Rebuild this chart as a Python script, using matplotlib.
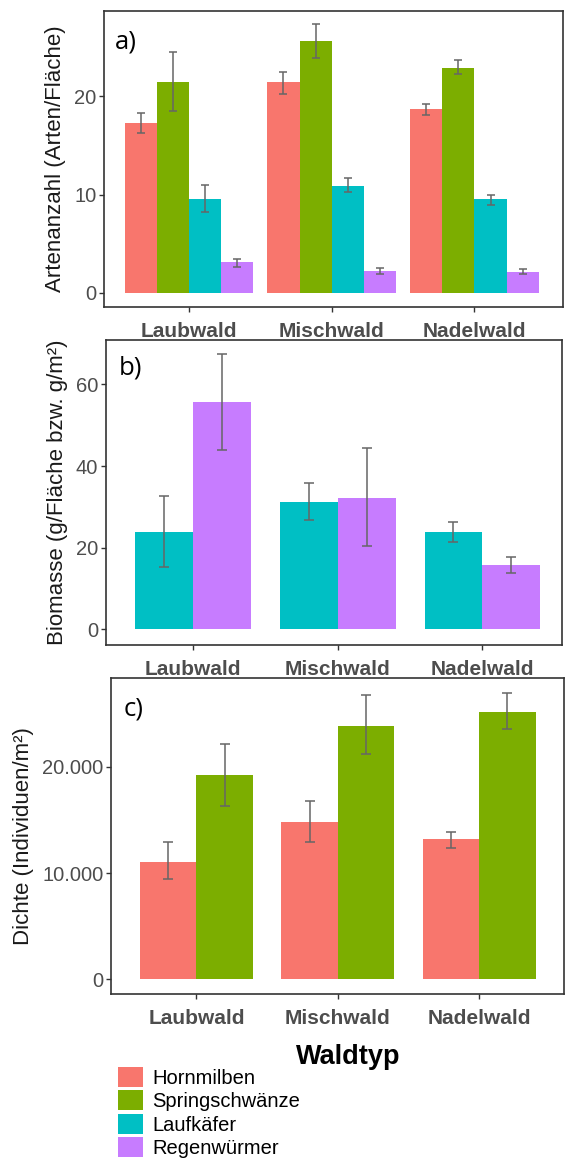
import matplotlib
matplotlib.use("Agg")
import matplotlib.pyplot as plt
from matplotlib.patches import Patch
from matplotlib.ticker import FuncFormatter
import numpy as np

plt.rcParams['font.family'] = ['Liberation Sans', 'DejaVu Sans']

# ---------------- data ----------------
waldtyp = ["Laubwald", "Mischwald", "Nadelwald"]
gruppen = ["Hornmilben", "Springschwänze", "Laufkäfer", "Regenwürmer"]
farben = ["#F8766D", "#7CAE00", "#00BFC4", "#C77CFF"]

# a) Artenanzahl (Arten/Fläche)
arten_mean = {
    "Hornmilben":     [17.3, 21.5, 18.7],
    "Springschwänze": [21.5, 25.6, 22.9],
    "Laufkäfer":      [9.6, 10.9, 9.6],
    "Regenwürmer":    [3.1, 2.2, 2.1],
}
arten_lo = {
    "Hornmilben":     [16.3, 20.3, 18.1],
    "Springschwänze": [18.5, 23.9, 22.3],
    "Laufkäfer":      [8.2, 10.3, 9.0],
    "Regenwürmer":    [2.65, 1.9, 1.9],
}
arten_hi = {
    "Hornmilben":     [18.35, 22.5, 19.2],
    "Springschwänze": [24.5, 27.4, 23.7],
    "Laufkäfer":      [11.0, 11.7, 10.0],
    "Regenwürmer":    [3.5, 2.5, 2.4],
}

# b) Biomasse (g/Fläche bzw. g/m²)
bio_gruppen = ["Laufkäfer", "Regenwürmer"]
bio_mean = {"Laufkäfer": [23.8, 31.3, 23.8], "Regenwürmer": [55.7, 32.2, 15.8]}
bio_lo = {"Laufkäfer": [15.2, 26.8, 21.5], "Regenwürmer": [43.9, 20.3, 13.8]}
bio_hi = {"Laufkäfer": [32.6, 35.9, 26.3], "Regenwürmer": [67.4, 44.4, 17.6]}

# c) Dichte (Individuen/m²)
dichte_gruppen = ["Hornmilben", "Springschwänze"]
dichte_mean = {"Hornmilben": [11000, 14800, 13200], "Springschwänze": [19200, 23900, 25200]}
dichte_lo = {"Hornmilben": [9400, 12900, 12400], "Springschwänze": [16300, 21200, 23600]}
dichte_hi = {"Hornmilben": [12900, 16800, 13900], "Springschwänze": [22200, 26800, 27000]}

yticks_a = [0, 10, 20]
yticks_b = [0, 20, 40, 60]
yticks_c = [0, 10000, 20000]

# ---------------- figure ----------------
W, H = 566, 1171
fig = plt.figure(figsize=(W / 100, H / 100), dpi=100)
farbe = dict(zip(gruppen, farben))

def ax_px(l, t, r, b):
    return fig.add_axes([l / W, 1 - b / H, (r - l) / W, (b - t) / H])

def style(ax, yticks, ylim, xlim, fmt=None):
    ax.set_xlim(*xlim)
    ax.set_ylim(*ylim)
    for s in ax.spines.values():
        s.set_color("#333333")
        s.set_linewidth(1.2)
    ax.set_yticks(yticks)
    ax.set_xticks(np.arange(1, len(waldtyp) + 1))
    ax.set_xticklabels(waldtyp, fontsize=15, fontweight="bold", color="#4D4D4D")
    if fmt is not None:
        ax.yaxis.set_major_formatter(FuncFormatter(fmt))
    ax.tick_params(axis="y", labelsize=14.5, labelcolor="#4D4D4D", color="#333333",
                   length=3.5, width=1, pad=2)
    ax.tick_params(axis="x", color="#333333", length=3.5, width=1, pad=7)

def dodge_bars(ax, groups, mean, lo, hi, total_width, capsize):
    n = len(groups)
    w = total_width / n
    x = np.arange(1, len(waldtyp) + 1)
    for i, g in enumerate(groups):
        off = -total_width / 2 + w * (i + 0.5)
        m = np.array(mean[g]); l = np.array(lo[g]); h = np.array(hi[g])
        ax.bar(x + off, m, width=w, color=farbe[g], linewidth=0, zorder=2)
        ax.errorbar(x + off, m, yerr=[m - l, h - m], fmt="none", ecolor="#666666",
                    elinewidth=1.1, capsize=capsize, capthick=1.1, zorder=3)

# panel a
ax1 = ax_px(104, 11, 563, 307)
dodge_bars(ax1, gruppen, arten_mean, arten_lo, arten_hi, 0.9, 2.6)
style(ax1, yticks_a, (-1.43, 28.7), (0.406, 3.62))
ax1.set_ylabel("Artenanzahl (Arten/Fläche)", fontsize=16, color="#1a1a1a", labelpad=6)
ax1.text(115, 41, "a)", transform=None, fontsize=1, alpha=0)
fig.text(115 / W, 1 - 42 / H, "a)", fontsize=18.5, family="Open Sans", va="center",
         ha="left", color="black")

# panel b
ax2 = ax_px(106, 340, 562, 645)
dodge_bars(ax2, bio_gruppen, bio_mean, bio_lo, bio_hi, 0.8, 3.3)
style(ax2, yticks_b, (-3.85, 70.9), (0.398, 3.55))
ax2.set_ylabel("Biomasse (g/Fläche bzw. g/m²)", fontsize=16, color="#1a1a1a", labelpad=6)
fig.text(119 / W, 1 - 368 / H, "b)", fontsize=18.5, family="Open Sans", va="center",
         ha="left", color="black")

# panel c
ax3 = ax_px(111, 678, 564, 994)
dodge_bars(ax3, dichte_gruppen, dichte_mean, dichte_lo, dichte_hi, 0.8, 3.3)
style(ax3, yticks_c, (-1400, 28380), (0.396, 3.6),
      fmt=lambda v, p: f"{int(v):,}".replace(",", "."))
ax3.set_ylabel("Dichte (Individuen/m²)", fontsize=16, color="#1a1a1a", labelpad=6)
fig.text(124 / W, 1 - 709 / H, "c)", fontsize=18.5, family="Open Sans", va="center",
         ha="left", color="black")

fig.text(348 / W, 1 - 1057 / H, "Waldtyp", fontsize=19.5, fontweight="bold",
         ha="center", va="center", color="black")

# legend
handles = [Patch(facecolor=farbe[g], edgecolor="none", label=g) for g in gruppen]
leg = fig.legend(handles=handles, loc="upper left", bbox_to_anchor=(114 / W, 1 - 1063 / H),
                 frameon=False, fontsize=14.5, handlelength=1.25, handleheight=1.15,
                 labelspacing=0.13, handletextpad=0.45, borderaxespad=0, borderpad=0.2)

fig.savefig("out.png", dpi=100, facecolor="white")
